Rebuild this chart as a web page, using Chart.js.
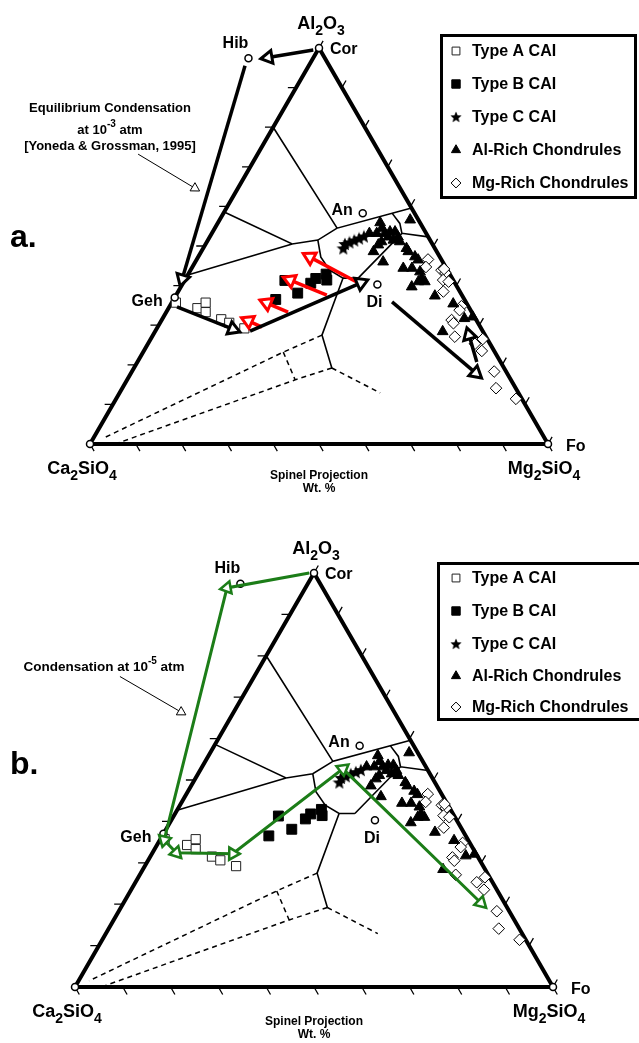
<!DOCTYPE html>
<html>
<head>
<meta charset="utf-8">
<title>Spinel projection - condensation paths</title>
<script src="https://cdn.jsdelivr.net/npm/chart.js"></script>
<style>
  html, body { margin: 0; padding: 0; background: #fff; }
  body { position: relative; width: 639px; height: 1043px; overflow: hidden; }
  canvas { position: absolute; left: 0; }
</style>
</head>
<body>
<canvas id="panelA" width="639" height="521" style="top:0px"></canvas>
<canvas id="panelB" width="639" height="522" style="top:521px"></canvas>
<script>
const FONT = '"Liberation Sans", Arial, sans-serif';

// compositions in wt.% as [Mg2SiO4, Al2O3]; Ca2SiO4 is the remainder
const typeA = [[0.9,35.7],[6.3,34.3],[7.4,35.7],[8.6,33.3],[12.9,31.5],[15.1,30.6],[19.1,29.2]];
const typeB = [[22.3,36.5],[21.9,41.3],[26.3,38.1],[27.9,40.6],[28.4,41.8],[30.1,42.9],[31.0,41.4]];
const typeC = [[30.6,49.4],[30.4,50.5],[31.2,50.9],[32.0,51.4],[32.8,51.9],[33.6,52.4]];
const alRich = [[35.4,55.9],[36.5,54.5],[34.4,53.2],[36.0,53.2],[37.8,53.2],[38.7,53.6],[39.8,53.6],[41.1,52.3],
  [39.0,52.3],[40.5,51.5],[42.1,51.1],[38.1,51.1],[37.8,50.3],[37.6,48.6],[41.0,46.0],[41.6,56.6],[44.4,49.4],
  [45.2,48.6],[47.3,47.3],[48.4,46.5],[46.2,44.4],[48.1,44.4],[50.3,43.5],[51.5,41.8],[52.6,41.0],[51.2,41.0],
  [50.4,39.7],[56.6,37.4],[61.6,35.4],[65.9,31.7],[67.5,32.1],[62.8,28.4]];
const mgRich = [[50.5,46.6],[51.0,44.7],[54.8,43.9],[56.0,43.2],[55.2,44.2],[56.4,41.4],[57.8,41.0],[57.9,38.5],
  [63.7,34.8],[63.8,33.8],[63.3,31.3],[64.1,30.5],[66.1,27.1],[72.5,26.5],[71.4,25.3],[73.8,23.5],[79.1,18.3],
  [81.6,14.1],[87.3,11.4]];
const seriesNames = ['Type A CAI', 'Type B CAI', 'Type C CAI', 'Al-Rich Chondrules', 'Mg-Rich Chondrules'];

const mineralNames = ['Cor', 'Hib', 'Geh', 'An', 'Di', 'Fo', ''];
const mineralComp = [[0,100],[-14.1,97.4],[0,37.0],[30.4,58.3],[42.6,40.3],[100,0],[0,0]];

const gridTicks = [0,10,20,30,40,50,60,70,80,90,100];

// phase field boundaries
const solidLines = [
  [[0,80],[26.7,54.5],[40.4,59.6]],
  [[0,58.6],[18.9,50.5],[24.0,51.5],[26.7,54.5]],
  [[0,42.7],[18.9,50.5]],
  [[24.0,51.5],[26.8,47.2],[30.4,43.9],[34.3,41.9],[37.6,41.9]],
  [[37.6,41.9],[41.5,53.2],[47.7,52.3]],
  [[36.8,58.3],[39.8,55.7],[41.5,53.2]],
  [[34.3,41.9],[36.9,27.5],[43.2,19.2]]
];
const dashedLines = [
  [[36.9,27.5],[30.6,23.2],[2.2,1.5]],
  [[30.6,23.2],[36.7,16.2]],
  [[43.2,19.2],[36.7,16.2],[5.5,0]],
  [[43.2,19.2],[56.9,12.9]]
];

// condensation paths
const pathA = [
  [[-1,99.5],[-9.9,97.6]],
  [[-13.9,95.5],[-0.7,41.7]],
  [[1.7,34.6],[16.7,29.0]],
  [[20.7,28.5],[38.8,40.7]],
  [[48.0,35.9],[75.3,17.9]],
  [[74.1,20.7],[69.0,27.5]]
];
const redArrows = [
  [[22.8,29.5],[19.0,31.1]],
  [[26.6,33.3],[20.8,35.6]],
  [[32.9,37.6],[23.0,41.4]],
  [[37.8,40.9],[24.4,47.2]]
];
const pathB = [[-1,100],[-16.4,96.4],[0.9,35.5],[5.0,32.4],[16.9,32.2],[29.7,52.7],[74.8,20.3]];
const noteArrowA = [[-26.1,73.2],[-9.4,64.6]];
const noteArrowB = [[-28.1,75.0],[-11.0,66.4]];

const noteA = [
  [['Equilibrium Condensation', 13, 0]],
  [['at 10', 13, 0], ['-3', 10, -6], [' atm', 13, 0]],
  [['[Yoneda & Grossman, 1995]', 13, 0]]
];
const noteB = [
  [['Condensation at 10', 13.5, 0], ['-5', 10, -6], [' atm', 13.5, 0]]
];

// label placement around the mineral points (pixels)
const mineralLabelPos = {
  Cor: [11, 2, 'left'], Hib: [-13, -15, 'center'], Geh: [-12, 4, 'right'],
  An: [-10, -3, 'right'], Di: [-3, 18, 'center'], Fo: [18, 3, 'left']
};

function starImage(size) {
  const c = document.createElement('canvas');
  c.width = c.height = size;
  const g = c.getContext('2d');
  g.fillStyle = '#000';
  g.beginPath();
  for (let i = 0; i < 10; i++) {
    const r = i % 2 ? size * 0.22 : size * 0.5;
    const a = -Math.PI / 2 + i * Math.PI / 5;
    g.lineTo(size / 2 + r * Math.cos(a), size / 2 + 0.5 + r * Math.sin(a));
  }
  g.closePath();
  g.fill();
  return c;
}

const markerStyles = [
  { pointStyle: 'rect', pointRadius: 6.5, pointBackgroundColor: '#fff', pointBorderColor: '#222', pointBorderWidth: 1 },
  { pointStyle: 'rect', pointRadius: 7, pointBackgroundColor: '#000', pointBorderColor: '#000', pointBorderWidth: 1 },
  { pointStyle: starImage(14), pointRadius: 7, pointBackgroundColor: '#000', pointBorderColor: '#000', pointBorderWidth: 0 },
  { pointStyle: 'triangle', pointRadius: 6.2, pointBackgroundColor: '#000', pointBorderColor: '#000', pointBorderWidth: 1 },
  { pointStyle: 'rectRot', pointRadius: 5.8, pointBackgroundColor: '#fff', pointBorderColor: '#000', pointBorderWidth: 1 }
];
const seriesData = [typeA, typeB, typeC, alRich, mgRich];

const pt = c => ({ x: c[0] + c[1] / 2, y: c[1] });

function segData(list) {
  const out = [];
  list.forEach(s => { s.forEach(c => out.push(pt(c))); out.push({ x: 0, y: null }); });
  return out;
}

function tickSegments(len) {
  const s = [];
  gridTicks.forEach(t => {
    s.push([[t, 0], [t + len, -len]]);
    if (t > 0 && t < 100) s.push([[0, t], [-len, t]]);
    s.push([[100 - t, t], [100 - t, t + len]]);
  });
  return s;
}

function headAngle(ctx) {
  const i = ctx.dataIndex;
  if (!i) return 0;
  const d = ctx.dataset.data, sx = ctx.chart.scales.x, sy = ctx.chart.scales.y;
  const dx = sx.getPixelForValue(d[i].x) - sx.getPixelForValue(d[i - 1].x);
  const dy = sy.getPixelForValue(d[i].y) - sy.getPixelForValue(d[i - 1].y);
  return Math.atan2(dx, -dy) * 180 / Math.PI;
}

function arrow(coords, color, width, headR, heads) {
  const data = coords.map(pt);
  return {
    data, order: 1, borderColor: color, borderWidth: width, borderCapStyle: 'butt',
    pointStyle: 'triangle',
    pointRadius: data.map((_, i) => heads.includes(i) ? headR : 0),
    pointBackgroundColor: '#fff', pointBorderColor: color, pointBorderWidth: Math.max(1, width * 0.85),
    pointRotation: headAngle
  };
}

function buildDatasets(p) {
  const ds = [];
  const frame = [[0,0],[100,0],[0,100],[0,0],[100,0]];
  ds.push({ data: frame.map(pt), order: 5, borderColor: '#000', borderWidth: 4, pointRadius: 0, borderJoinStyle: 'miter' });
  ds.push({ data: segData(tickSegments(1.8)), order: 5, borderColor: '#000', borderWidth: 1.3, pointRadius: 0 });
  ds.push({ data: segData(solidLines), order: 4, borderColor: '#000', borderWidth: 1.6, pointRadius: 0 });
  ds.push({ data: segData(dashedLines), order: 4, borderColor: '#000', borderWidth: 1.5, borderDash: [5, 4], pointRadius: 0 });
  ds.push({ data: mineralComp.map(pt), order: 2, showLine: false, pointStyle: 'circle', pointRadius: 3.5,
    pointBackgroundColor: '#fff', pointBorderColor: '#000', pointBorderWidth: 1.5 });
  seriesData.forEach((list, i) => {
    ds.push(Object.assign({ label: seriesNames[i], data: list.map(pt), order: 3, showLine: false }, markerStyles[i]));
  });
  if (p.id === 'panelA') {
    pathA.forEach(a => ds.push(arrow(a, '#000', 3.5, 7.5, [1])));
    redArrows.forEach(a => ds.push(arrow(a, '#ff0000', 3.5, 7.5, [1])));
    ds.push(arrow(noteArrowA, '#000', 1, 5.5, [1]));
  } else {
    ds.push(arrow(pathB, 'rgb(28,125,24)', 3, 7, [1, 2, 3, 4, 5, 6]));
    ds.push(arrow(noteArrowB, '#000', 1, 5.5, [1]));
  }
  return ds;
}

function chem(s) {
  return s.match(/[A-Za-z]+|\d+/g).map(t => /\d/.test(t) ? [t, 14, 6] : [t, 18, 0]);
}

function drawRuns(ctx, runs, x, y, align) {
  let w = 0;
  runs.forEach(r => { ctx.font = 'bold ' + r[1] + 'px ' + FONT; w += ctx.measureText(r[0]).width; });
  let cx = align === 'center' ? x - w / 2 : align === 'right' ? x - w : x;
  ctx.textAlign = 'left';
  runs.forEach(r => {
    ctx.font = 'bold ' + r[1] + 'px ' + FONT;
    ctx.fillText(r[0], cx, y + r[2]);
    cx += ctx.measureText(r[0]).width;
  });
}

function drawSymbol(ctx, s, x, y, k) {
  ctx.save();
  if (typeof s.pointStyle !== 'string') {
    const w = s.pointStyle.width * k;
    ctx.drawImage(s.pointStyle, x - w / 2, y - w / 2, w, w);
    ctx.restore();
    return;
  }
  ctx.fillStyle = s.pointBackgroundColor;
  ctx.strokeStyle = s.pointBorderColor;
  ctx.lineWidth = s.pointBorderWidth;
  const r = s.pointRadius * k;
  ctx.beginPath();
  if (s.pointStyle === 'rect') {
    const h = r * Math.SQRT1_2;
    ctx.rect(x - h, y - h, 2 * h, 2 * h);
  } else if (s.pointStyle === 'rectRot') {
    ctx.moveTo(x - r, y); ctx.lineTo(x, y - r); ctx.lineTo(x + r, y); ctx.lineTo(x, y + r); ctx.closePath();
  } else {
    for (let j = 0; j < 3; j++) {
      const a = j * 2 * Math.PI / 3;
      ctx.lineTo(x + Math.sin(a) * r, y - Math.cos(a) * r);
    }
    ctx.closePath();
  }
  ctx.fill();
  if (s.pointBorderWidth) ctx.stroke();
  ctx.restore();
}

function overlay(p) {
  return {
    id: 'overlay',
    afterDatasetsDraw(chart) {
      const ctx = chart.ctx, sx = chart.scales.x, sy = chart.scales.y;
      const at = c => [sx.getPixelForValue(c[0] + c[1] / 2), sy.getPixelForValue(c[1])];
      ctx.save();
      ctx.fillStyle = '#000';

      ctx.textBaseline = 'middle';
      ctx.font = 'bold 16px ' + FONT;
      mineralNames.forEach((n, i) => {
        const o = mineralLabelPos[n];
        if (!o) return;
        const [x, y] = at(mineralComp[i]);
        ctx.textAlign = o[2];
        ctx.fillText(n, x + o[0], y + o[1]);
      });

      ctx.textBaseline = 'alphabetic';
      const apex = at([0, 100]), left = at([0, 0]), right = at([100, 0]);
      drawRuns(ctx, chem('Al2O3'), apex[0] + 2, apex[1] - 19, 'center');
      drawRuns(ctx, chem('Ca2SiO4'), left[0] - 8, left[1] + 30, 'center');
      drawRuns(ctx, chem('Mg2SiO4'), right[0] - 4, right[1] + 30, 'center');

      ctx.textBaseline = 'middle';
      ctx.textAlign = 'center';
      ctx.font = 'bold 12px ' + FONT;
      const mid = (left[0] + right[0]) / 2;
      ctx.fillText('Spinel Projection', mid, left[1] + p.spinelDy);
      ctx.fillText('Wt. %', mid, left[1] + p.spinelDy + 13);

      ctx.font = 'bold 32px ' + FONT;
      ctx.textAlign = 'left';
      ctx.textBaseline = 'alphabetic';
      ctx.fillText(p.letter, 10, p.letterY);

      ctx.textBaseline = 'middle';
      p.note.forEach((line, i) => drawRuns(ctx, line, p.noteX, p.noteY[i], 'center'));

      const lg = p.legend;
      ctx.lineWidth = 3;
      ctx.strokeStyle = '#000';
      ctx.strokeRect(lg.x, lg.y, lg.w, lg.h);
      seriesNames.forEach((n, i) => {
        drawSymbol(ctx, markerStyles[i], lg.symX, lg.rows[i], 0.85);
        ctx.fillStyle = '#000';
        ctx.font = 'bold 16px ' + FONT;
        ctx.textAlign = 'left';
        ctx.textBaseline = 'middle';
        ctx.fillText(n, lg.textX, lg.rows[i] + 1);
      });
      ctx.restore();
    }
  };
}

const panels = [
  { id: 'panelA', h: 521, ox: 90, oy: 444, w: 458, hh: 396, letter: 'a.', letterY: 247, spinelDy: 32,
    note: noteA, noteX: 110, noteY: [108, 130, 146],
    legend: { x: 441.5, y: 35.5, w: 194, h: 162, rows: [51, 84, 117, 150, 183], symX: 456, textX: 472 } },
  { id: 'panelB', h: 522, ox: 75, oy: 466, w: 478, hh: 414, letter: 'b.', letterY: 253, spinelDy: 35,
    note: noteB, noteX: 104, noteY: [146],
    legend: { x: 438.5, y: 42.5, w: 220, h: 156, rows: [57, 90, 123, 155, 186], symX: 456, textX: 472 } }
];

panels.forEach(p => {
  const xPer = p.w / 100, yPer = p.hh / 100;
  new Chart(document.getElementById(p.id), {
    type: 'line',
    data: { datasets: buildDatasets(p) },
    options: {
      responsive: false,
      animation: false,
      events: [],
      layout: { padding: 0, autoPadding: false },
      plugins: { legend: { display: false }, tooltip: { enabled: false } },
      scales: {
        x: { type: 'linear', display: false, min: -p.ox / xPer, max: (639 - p.ox) / xPer },
        y: { type: 'linear', display: false, min: -(p.h - p.oy) / yPer, max: p.oy / yPer }
      }
    },
    plugins: [overlay(p)]
  });
});
</script>
</body>
</html>
